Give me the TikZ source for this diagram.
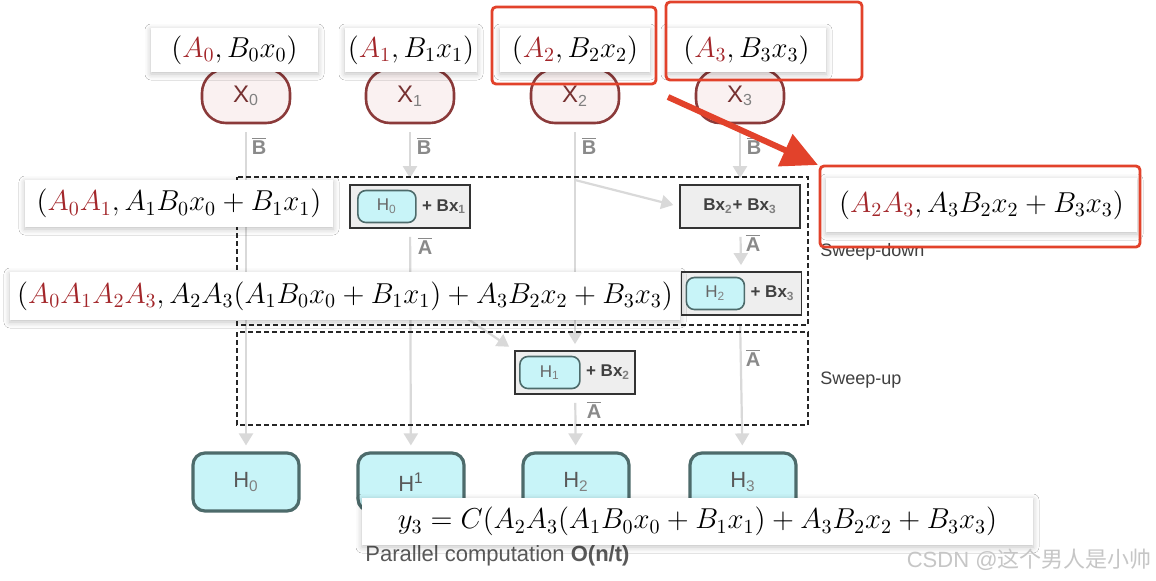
\documentclass[tikz,border=0pt]{standalone}
\usepackage{amsmath}
\usepackage{fontspec}
\setsansfont{Liberation Sans}
\newfontfamily\cjkfont{Noto Sans CJK SC}
\usepackage{xcolor}
\usepackage{tikz}
\usetikzlibrary{positioning, calc, arrows.meta, shadows.blur}

\definecolor{mathred}{HTML}{A3262A}
\definecolor{xborder}{HTML}{8B3A3A}
\definecolor{xfill}{HTML}{FAF1F1}
\definecolor{hfill}{HTML}{C8F4F8}
\definecolor{hborder}{HTML}{4D6B6B}
\definecolor{flowgray}{HTML}{D9D9D9}
\definecolor{bargray}{HTML}{8A8A8A}
\definecolor{markred}{HTML}{E2422B}
\definecolor{opfill}{HTML}{EEEEEE}

\newcommand{\redA}[1]{\textcolor{mathred}{#1}}
\newcommand{\lowidx}[1]{\textsubscript{\textcolor{gray}{#1}}}

\begin{document}
\begin{tikzpicture}[x=0.5pt, y=-0.5pt,
  xnode/.style={draw=xborder, fill=xfill, line width=1.3pt, rounded corners=12pt,
    minimum width=44pt, minimum height=27pt, text=xborder!85!black,
    font=\sffamily\fontsize{12}{12}\selectfont},
  hnode/.style={draw=hborder, fill=hfill, line width=1.6pt, rounded corners=6pt,
    minimum width=53pt, minimum height=29pt, text=black!65,
    font=\sffamily\fontsize{11}{11}\selectfont},
  hsmall/.style={draw=hborder, fill=hfill, line width=0.8pt, rounded corners=4pt,
    minimum width=29pt, minimum height=16pt, inner sep=0pt, text=black!60,
    font=\sffamily\fontsize{8.5}{8.5}\selectfont},
  opbox/.style={draw=black!80, fill=opfill, line width=0.9pt, minimum width=60pt,
    minimum height=21.5pt, inner sep=0pt, text=black!75,
    font=\sffamily\bfseries\fontsize{8.5}{8.5}\selectfont},
  optext/.style={inner sep=0pt, text=black!75, font=\sffamily\bfseries\fontsize{8.5}{8.5}\selectfont},
  flow/.style={draw=flowgray, line width=1.1pt, -{Triangle[length=6pt, width=7pt]},
    shorten <=4pt, shorten >=3pt},
  barlbl/.style={inner sep=0pt, text=bargray, font=\sffamily\bfseries\fontsize{10}{10}\selectfont},
  sweep/.style={draw=black!85, line width=0.9pt, dash pattern=on 2.5pt off 1.5pt},
  note/.style={anchor=west, inner sep=0pt, text=black!75, font=\sffamily\fontsize{9}{9}\selectfont},
  eqbox/.style={fill=white, inner sep=0pt, minimum height=22pt,
    font=\fontsize{14.5}{17}\selectfont,
    blur shadow={shadow xshift=0pt, shadow yshift=-1pt, shadow blur radius=3pt, shadow opacity=25}},
  markbox/.style={draw=markred, line width=1.4pt, rounded corners=2pt},
  bigarrow/.style={draw=markred, line width=3pt, -{Triangle[length=18pt, width=17pt]}}]

  % Canvas
  \useasboundingbox (0,0) rectangle (1156,580);
  \fill[white] (0,0) rectangle (1156,580);

  % Input tokens
  \node[xnode] (x0) at (246,96) {X\lowidx{0}};
  \node[xnode] (x1) at (410,96) {X\lowidx{1}};
  \node[xnode] (x2) at (575,96) {X\lowidx{2}};
  \node[xnode] (x3) at (740,96) {X\lowidx{3}};

  % Outputs
  \node[hnode] (h0) at (246,482) {H\lowidx{0}};
  \node[hnode] (h1) at (411,482) {H\textsuperscript{1}};
  \node[hnode] (h2) at (576,482) {H\lowidx{2}};
  \node[hnode] (h3) at (743,482) {H\lowidx{3}};

  % Combination boxes
  \node[opbox] (op01) at (410,206.5) {};
  \node[opbox] (op23) at (740,206.5) {Bx\lowidx{2}+ Bx\lowidx{3}};
  \node[opbox] (op23b) at (741.5,293.5) {};
  \node[opbox] (op12) at (575,372.5) {};

  % Split points on the columns
  \coordinate (split2) at (575,180);
  \coordinate (split1) at (410,280);

  % Flow lines
  \draw[flow] (x0) -- (h0);
  \draw[flow] (x1) -- (op01);
  \draw[flow] (op01) -- (h1);
  \draw[flow] (x2) -- (op12);
  \draw[flow] (op12) -- (h2);
  \draw[flow] (x3) -- (op23);
  \draw[flow] (op23) -- (op23b);
  \draw[flow] (op23b.south -| op23) -- (h3);
  \draw[flow, shorten <=0pt] (split2) -- (op23.west);
  \draw[flow, shorten <=0pt] (split1) -- (op23b.west);
  \draw[flow, shorten <=0pt] (split1) -- (op12.north west);

  % Sweep regions
  \draw[sweep] (237,177) rectangle (808,325);
  \draw[sweep] (237,332) rectangle (808,425);
  \node[note] (down) at (820,252) {Sweep-down};
  \node[note] (up) at (820,380) {Sweep-up};

  % Box contents
  \node[opbox] at (op01) {};
  \node[hsmall, right=4pt of op01.west] (h0in) {H\lowidx{0}};
  \node[optext, right=2.5pt of h0in] (bx1) {+ Bx\lowidx{1}};
  \node[opbox] at (op23b) {};
  \node[hsmall, right=2.5pt of op23b.west] (h2in) {H\lowidx{2}};
  \node[optext, right=2.5pt of h2in] (bx3) {+ Bx\lowidx{3}};
  \node[opbox] at (op12) {};
  \node[hsmall, minimum width=30pt, right=2.5pt of op12.west] (h1in) {H\lowidx{1}};
  \node[optext, right=2.5pt of h1in] (bx2) {+ Bx\lowidx{2}};

  % Bar labels
  \node[barlbl] (b0) at (259,146) {$\overline{\text{B}}$};
  \node[barlbl] (b1) at (424,146) {$\overline{\text{B}}$};
  \node[barlbl] (b2) at (589,146) {$\overline{\text{B}}$};
  \node[barlbl] (b3) at (754,146) {$\overline{\text{B}}$};
  \node[barlbl] (a1) at (425,246) {$\overline{\text{A}}$};
  \node[barlbl] (a3) at (753,243) {$\overline{\text{A}}$};
  \node[barlbl] (a3b) at (753,358) {$\overline{\text{A}}$};
  \node[barlbl] (a2) at (594,410) {$\overline{\text{A}}$};

  % Footer text
  \node[note, text=black!65, font=\sffamily\fontsize{11}{11}\selectfont] (pc) at (365,556)
    {Parallel computation \textbf{O(n/t)}};

  % Pair labels
  \node[eqbox, minimum width=83.5pt] (l0) at (234.5,50) {$(\redA{A_0}, B_0x_0)$};
  \node[eqbox, minimum width=66pt] (l1) at (411,50) {$(\redA{A_1}, B_1x_1)$};
  \node[eqbox, minimum width=75pt] (l2) at (575,50) {$(\redA{A_2}, B_2x_2)$};
  \node[eqbox, minimum width=79.5pt] (l3) at (746.5,50) {$(\redA{A_3}, B_3x_3)$};
  \node[eqbox, minimum width=154pt, minimum height=23.5pt] (l01) at (179,203.5)
    {$(\redA{A_0A_1}, A_1B_0x_0 + B_1x_1)$};
  \node[eqbox, minimum width=335pt, minimum height=24pt] (l0123) at (345,296)
    {$(\redA{A_0A_1A_2A_3}, A_2A_3(A_1B_0x_0 + B_1x_1) + A_3B_2x_2 + B_3x_3)$};
  \node[eqbox, minimum width=155.5pt, minimum height=27pt] (l23) at (981.5,205)
    {$(\redA{A_2A_3}, A_3B_2x_2 + B_3x_3)$};
  \node[eqbox, minimum width=335.5pt, minimum height=23.5pt] (ly) at (697.5,521.5)
    {$y_3 = C(A_2A_3(A_1B_0x_0 + B_1x_1) + A_3B_2x_2 + B_3x_3)$};

  % Highlights
  \draw[markbox] (492,7) rectangle (656,84);
  \draw[markbox] (666,2) rectangle (862,80);
  \draw[markbox] (820,166) rectangle (1140,247);
  \coordinate (tail) at (668,97);
  \coordinate (tip) at (818,165);
  \draw[bigarrow] (tail) -- (tip);

  % Watermark
  \node[anchor=east, inner sep=0pt, text=gray!45, font=\sffamily\fontsize{11}{11}\selectfont] (wm)
    at (1152,560) {CSDN @{\cjkfont 这个男人是小帅}};
\end{tikzpicture}
\end{document}
